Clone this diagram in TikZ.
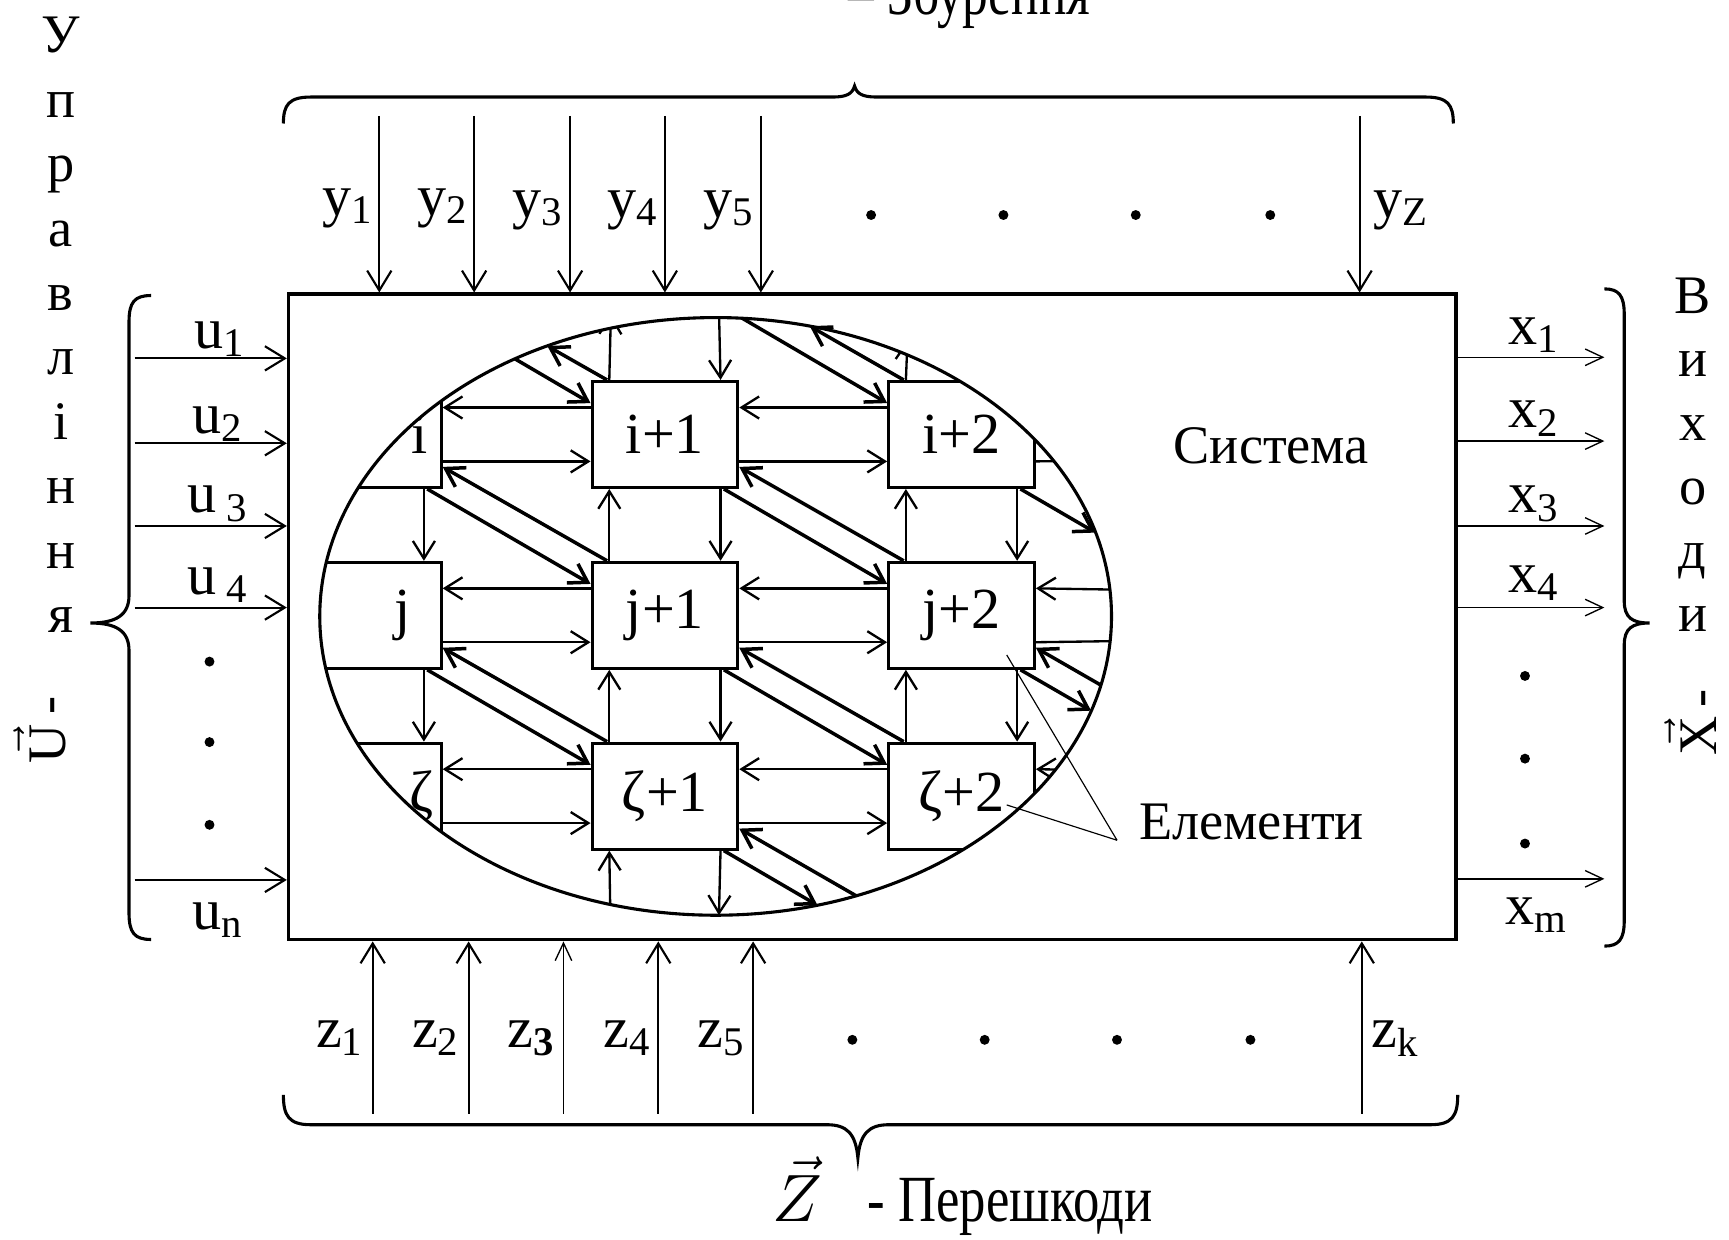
\documentclass[tikz,border=0pt]{standalone}
\usepackage{fontspec}
\setmainfont{Liberation Serif}
\usetikzlibrary{arrows.meta,calc}

\tikzset{
  elem/.style={draw, line width=0.8pt, minimum width=1.32cm, minimum height=0.96cm, inner sep=0pt, font=\fontsize{15}{18}\selectfont},
  lbl/.style={inner sep=0pt, font=\fontsize{15}{17}\selectfont},
  txt/.style={inner sep=0pt, font=\fontsize{14}{16}\selectfont},
  bigtxt/.style={inner sep=0pt, font=\fontsize{17}{20}\selectfont},
  inarr/.style={line width=0.55pt, -{Straight Barb[length=1.8mm,width=2.2mm]}},
  outarr/.style={line width=0.35pt, -{Straight Barb[length=1.6mm,width=1.5mm]}},
  garr/.style={line width=0.6pt, -{Straight Barb[length=1.6mm,width=2mm]}},
  darr/.style={line width=0.9pt, -{Straight Barb[length=1.6mm,width=2mm]}},
  curly/.style={line width=0.8pt},
  leader/.style={line width=0.3pt},
}

\begin{document}
\begin{tikzpicture}[x=0.01cm, y=-0.01cm]
\useasboundingbox (0,0) rectangle (1568,1124);

\node[draw, line width=0.9pt, minimum width=10.58cm, minimum height=5.85cm, inner sep=0pt] (sys) at (791,559.5) {};
\node[txt] (systxt) at (1153,404) {Система};

\begin{scope}
\clip (649,559) ellipse [x radius=359, y radius=271];
\node[elem, text width=1.08cm, align=right] (i0) at (334,394) {i};
\node[elem] (i1) at (603,394) {i+1};
\node[elem] (i2) at (872,394) {i+2};
\node[elem, text width=0.76cm, align=right] (j0) at (334,558) {j};
\node[elem] (j1) at (603,558) {j+1};
\node[elem] (j2) at (872,558) {j+2};
\node[elem, text width=1.18cm, align=right] (z0) at (334,722) {ζ};
\node[elem] (z1) at (603,722) {ζ+1};
\node[elem] (z2) at (872,722) {ζ+2};
\foreach \a/\b in {i0/i1,i1/i2,j0/j1,j1/j2,z0/z1,z1/z2} {
  \draw[garr] ($(\b.north west)+(0,25)$) -- ($(\a.north east)+(0,25)$);
  \draw[garr] ($(\a.south east)+(0,-25)$) -- ($(\b.south west)+(0,-25)$);
}
\foreach \a/\b in {i0/j0,j0/z0,i1/j1,j1/z1,i2/j2,j2/z2} {
  \draw[garr] ($(\b.north west)+(17,0)$) -- ($(\a.south west)+(17,0)$);
  \draw[garr] ($(\a.south east)+(-17,0)$) -- ($(\b.north east)+(-17,0)$);
}
\foreach \a/\b in {i0/j1,j0/z1,i1/j2,j1/z2} {
  \draw[darr] ($(\a.south east)+(-14,0)$) -- ($(\b.north west)+(0,21)$);
  \draw[darr] ($(\b.north west)+(15,0)$) -- ($(\a.south east)+(0,-20)$);
}
\coordinate (tA) at (386,278);
\coordinate (tC) at (655,278);
\coordinate (tE) at (554,285);
\coordinate (tF) at (652,280);
\coordinate (tG) at (823,308);
\coordinate (rA) at (1030,417);
\coordinate (rC) at (1030,535);
\coordinate (rD) at (1040,581);
\coordinate (rE) at (1090,674);
\coordinate (rG) at (1030,699);
\coordinate (bA) at (554,860);
\coordinate (bD) at (821,838);
\draw[darr] (tA) -- ($(i1.north west)+(0,21)$);
\draw[darr] (tC) -- ($(i2.north west)+(0,21)$);
\draw[garr] ($(i1.north west)+(17,0)$) -- (tE);
\draw[garr] (tF) -- ($(i1.north east)+(-17,0)$);
\draw[garr] ($(i2.north west)+(17,0)$) -- (tG);
\draw[garr] ($(i2.south east)+(0,-25)$) -- (rA);
\draw[garr] (rC) -- ($(j2.north east)+(0,25)$);
\draw[garr] ($(j2.south east)+(0,-25)$) -- (rD);
\draw[darr] (rE) -- ($(j2.south east)+(0,-20)$);
\draw[garr] (rG) -- ($(z2.north east)+(0,25)$);
\draw[garr] (bA) -- ($(z1.south west)+(17,0)$);
\draw[darr] (bD) -- ($(z1.south east)+(0,-20)$);
\end{scope}

\coordinate (oA) at (496.4,313.8);
\coordinate (oB) at (734.4,295.8);
\coordinate (oC) at (993.5,483);
\coordinate (oD) at (989.5,644.5);
\coordinate (oE) at (652,830);
\coordinate (oF) at (741.4,821);
\draw[darr] ($(i1.north west)+(15,0)$) -- (oA);
\draw[darr] ($(i2.north west)+(15,0)$) -- (oB);
\draw[darr] ($(i2.south east)+(-14,0)$) -- (oC);
\draw[darr] ($(j2.south east)+(-14,0)$) -- (oD);
\draw[garr] ($(z1.south east)+(-17,0)$) -- (oE);
\draw[darr] ($(z1.south east)+(-14,0)$) -- (oF);
\draw[line width=0.8pt] (649,559) ellipse [x radius=359, y radius=271];

\node[txt] (elemtxt) at (1135,745) {Елементи};
\coordinate (elfoot) at (1013,762);
\draw[leader] ($(j2.center)+(41,36)$) -- (elfoot);
\draw[leader] ($(z2.center)+(41,8)$) -- (elfoot);

\foreach \k/\yy in {1/325,2/402,3/477,4/551,n/798} {
  \coordinate (us\k) at (122,\yy);
  \draw[inarr] (us\k) -- (us\k -| sys.west);
}
\node[lbl, anchor=base] (ul1) at (200,316) {u\textsubscript{1}};
\node[lbl, anchor=base] (ul2) at (198,393) {u\textsubscript{2}};
\node[lbl, anchor=base] (ul3) at (198,465) {u\,\textsubscript{3}};
\node[lbl, anchor=base] (ul4) at (198,539) {u\,\textsubscript{4}};
\node[lbl, anchor=base] (uln) at (198,843) {u\textsubscript{n}};
\foreach \yy in {600,673,748} \fill (190,\yy) circle[radius=4.5];

\foreach \k/\yy in {1/324,2/400,3/477,4/551,m/797} {
  \coordinate (xe\k) at (1455,\yy);
  \draw[outarr] (xe\k -| sys.east) -- (xe\k);
}
\node[lbl, anchor=base] (xl1) at (1391,312) {x\textsubscript{1}};
\node[lbl, anchor=base] (xl2) at (1391,388) {x\textsubscript{2}};
\node[lbl, anchor=base] (xl3) at (1391,465) {x\textsubscript{3}};
\node[lbl, anchor=base] (xl4) at (1391,537) {x\textsubscript{4}};
\node[lbl, anchor=base] (xlm) at (1394,838) {x\textsubscript{m}};
\foreach \yy in {613,688,765} \fill (1383,\yy) circle[radius=4.5];

\foreach \k/\xx in {1/344,2/430,3/517,4/603,5/690,Z/1233} {
  \coordinate (ys\k) at (\xx,105);
  \draw[inarr] (ys\k) -- (ys\k |- sys.north);
}
\node[lbl, anchor=base east] (yl1) at (340,195) {y\textsubscript{1}};
\node[lbl, anchor=base east] (yl2) at (426,195) {y\textsubscript{2}};
\node[lbl, anchor=base east] (yl3) at (512,197) {y\textsubscript{3}};
\node[lbl, anchor=base east] (yl4) at (598,197) {y\textsubscript{4}};
\node[lbl, anchor=base east] (yl5) at (685,197) {y\textsubscript{5}};
\node[lbl, anchor=base west] (ylZ) at (1245,197) {y\textsubscript{Z}};
\foreach \xx in {790,910,1030,1152} \fill (\xx,195) circle[radius=4.5];

\foreach \k/\xx in {1/338,2/425,4/597,5/683,k/1235} {
  \coordinate (zs\k) at (\xx,1010);
  \draw[inarr] (zs\k) -- (zs\k |- sys.south);
}
\coordinate (zs3) at (511,1010);
\draw[outarr] (zs3) -- (zs3 |- sys.south);
\node[lbl, anchor=base east] (zl1) at (331,950) {z\textsubscript{1}};
\node[lbl, anchor=base east] (zl2) at (418,950) {z\textsubscript{2}};
\node[lbl, anchor=base east] (zl3) at (505,950) {z\textsubscript{\textbf{3}}};
\node[lbl, anchor=base east] (zl4) at (592,950) {z\textsubscript{4}};
\node[lbl, anchor=base east] (zl5) at (677,950) {z\textsubscript{5}};
\node[lbl, anchor=base west] (zlk) at (1243,950) {z\textsubscript{k}};
\foreach \xx in {773,893,1013,1134} \fill (\xx,943) circle[radius=4.5];

\draw[curly] (257,112) .. controls (257,95) and (262,88) .. (282,88) -- (755,88) .. controls (768,88) and (773,85) .. (775,78) .. controls (777,85) and (782,88) .. (795,88) -- (1293,88) .. controls (1313,88) and (1318,95) .. (1318,112);
\draw[curly] (257,993) .. controls (257,1012) and (262,1020) .. (282,1020) -- (750,1020) .. controls (768,1020) and (776,1028) .. (778,1050) .. controls (780,1028) and (788,1020) .. (806,1020) -- (1297,1020) .. controls (1317,1020) and (1322,1012) .. (1322,993);
\draw[curly] (137,268) .. controls (122,268) and (117,274) .. (117,292) -- (117,540) .. controls (117,558) and (105,565) .. (82,565) .. controls (105,565) and (117,572) .. (117,590) -- (117,828) .. controls (117,846) and (122,852) .. (137,852);
\draw[curly] (1455,262) .. controls (1468,262) and (1473,268) .. (1473,285) -- (1473,545) .. controls (1473,560) and (1480,565) .. (1496,565) .. controls (1480,565) and (1473,570) .. (1473,585) -- (1473,835) .. controls (1473,852) and (1468,858) .. (1455,858);

\node[bigtxt, anchor=base west] (distxt) at (769,13.6) {\scalebox{0.78}[1]{– Збурення}};
\node[bigtxt, anchor=base west] (zvec) at (700,1108) {$\vec{Z}$};
\node[bigtxt, anchor=base west] (noisetxt) at (786,1108) {\scalebox{0.8}[1]{- Перешкоди}};

\foreach \ch [count=\k] in {У,п,р,а,в,л,і,н,н,я}
  \node[txt, anchor=base] (ctl\k) at (55,{48+58.4*(\k-1)}) {\ch};
\foreach \ch [count=\k] in {В,и,х,о,д,и}
  \node[txt, anchor=base] (out\k) at (1535,{284+57.8*(\k-1)}) {\ch};
\node[txt, rotate=90] (uvec) at (36,662) {$\vec{\mathrm{U}}$\,-};
\node[txt, rotate=90] (xvec) at (1533,655) {$\vec{\mathrm{X}}$\,-};
\end{tikzpicture}
\end{document}
